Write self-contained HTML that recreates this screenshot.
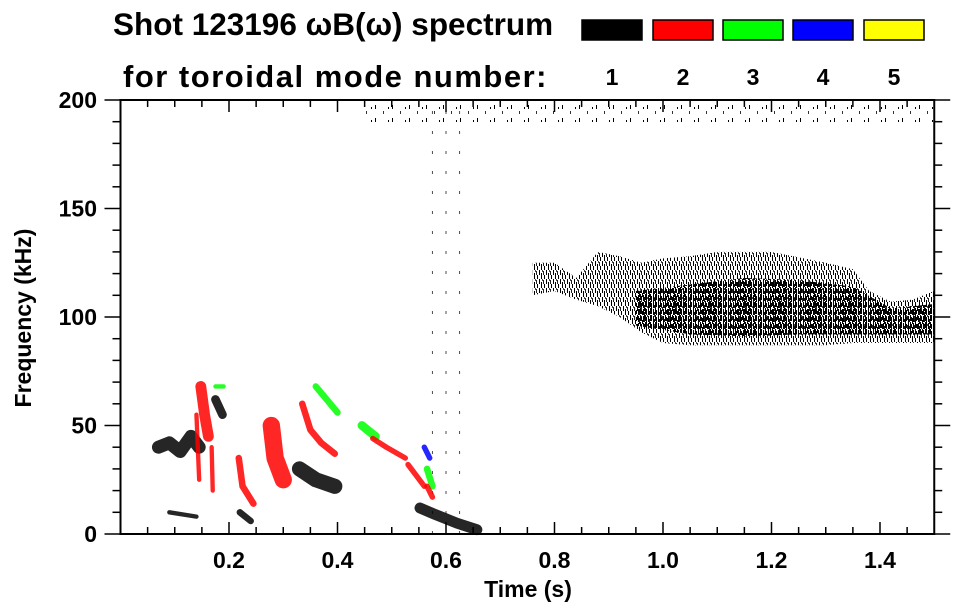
<!DOCTYPE html>
<html><head><meta charset="utf-8">
<style>
html,body{margin:0;padding:0;background:#fff;}
svg{display:block;font-family:"Liberation Sans",Arial,sans-serif;font-weight:bold;}
</style></head>
<body>
<svg id="chart" width="963" height="615" viewBox="0 0 963 615">
<defs>
<pattern id="hatch" width="7" height="9" patternUnits="userSpaceOnUse">
<rect x="0" y="0" width="1" height="5" fill="#000"/><rect x="2" y="3" width="1" height="6" fill="#000"/>
<rect x="4" y="1" width="1" height="4" fill="#222"/><rect x="5" y="5" width="1" height="4" fill="#000"/>
<rect x="3" y="0" width="1" height="2" fill="#444"/>
</pattern>
<pattern id="dense" width="5" height="7" patternUnits="userSpaceOnUse">
<rect x="0" y="0" width="1" height="6" fill="#000"/><rect x="1" y="2" width="1" height="4" fill="#000"/>
<rect x="3" y="1" width="1" height="6" fill="#000"/><rect x="4" y="4" width="1" height="3" fill="#111"/>
</pattern>
<pattern id="sparse" width="17" height="13" patternUnits="userSpaceOnUse">
<rect x="1" y="1" width="1" height="4" fill="#000"/><rect x="9" y="7" width="1" height="3" fill="#333"/>
<rect x="14" y="3" width="1" height="2" fill="#000"/>
</pattern>
</defs>
<g id="title">
<text x="113" y="35" font-size="31.5">Shot 123196 ωB(ω) spectrum</text>
<text x="123" y="87" font-size="31" letter-spacing="1.5">for toroidal mode number:</text>
</g>
<g id="legend"></g>
<g id="marks"></g>
<g id="axes"></g>
<text x="528" y="597" font-size="23" text-anchor="middle">Time (s)</text>
<text transform="translate(31,318) rotate(-90)" font-size="23" text-anchor="middle">Frequency (kHz)</text>
</svg>
<script>
const modeColors = ['#000000','#ff0000','#00ff00','#0000ff','#ffff00'];
const modeLabels = ['1','2','3','4','5'];
const xTicks = [0.2,0.4,0.6,0.8,1.0,1.2,1.4];
const xTickLabels = ['0.2','0.4','0.6','0.8','1.0','1.2','1.4'];
const yTicks = [0,50,100,150,200];
const yTickLabels = ['0','50','100','150','200'];
// dominant n=1 broadband cloud
const cloudT  = [0.76,0.80,0.84,0.88,0.92,0.96,1.00,1.05,1.10,1.20,1.30,1.35,1.38,1.42,1.46,1.50];
const cloudHi = [125,125,118,130,128,125,127,128,130,130,125,122,112,107,108,112];
const cloudLo = [110,112,108,105,100,93,88,87,87,87,87,88,88,88,88,88];
const coreT  = [0.95,1.05,1.15,1.25,1.35,1.42,1.50];
const coreHi = [112,115,118,117,114,104,106];
const coreLo = [96,92,91,92,92,92,92];
const bandT  = [0.44,1.5];
const bandHi = [199,199];
const bandLo = [189,189];
const vlineT = [0.575,0.60,0.625];
// coherent mode streaks: mode number, time points, frequency points, width (kHz)
const featMode = [1,2,2,3,1,2,1,2,2,1,3,3,2,2,4,3,2,1,1,2];
const featT = [[0.07,0.09,0.11,0.13,0.145],[0.148,0.155,0.162],[0.168,0.17],[0.175,0.19],[0.175,0.188],
 [0.218,0.225,0.245],[0.22,0.24],[0.278,0.285,0.30],[0.335,0.35,0.37,0.395],[0.33,0.36,0.395],
 [0.36,0.38,0.40],[0.445,0.47],[0.465,0.49,0.525],[0.53,0.545,0.56],[0.56,0.57],[0.565,0.575],
 [0.565,0.575],[0.552,0.58,0.62,0.657],[0.09,0.14],[0.14,0.145]];
const featF = [[40,42,38,45,40],[68,55,45],[40,20],[68,68],[62,55],
 [35,22,14],[10,6],[50,35,25],[60,48,42,37],[30,25,22],
 [68,62,56],[50,45],[44,40,35],[32,27,22],[40,35],[30,22],
 [22,17],[12,9,5,2],[10,8],[55,25]];
const featW = [6,5,2,2,4,3,3,8,3,7,3,4,2.5,2.5,2.5,3,2.5,5,2,2];

const X0=120.5, XS=542.5, Y0=534, YS=2.17;
const xs = t => X0 + t*XS;
const ys = f => Y0 - f*YS;
const NS='http://www.w3.org/2000/svg';
function mk(tag, attrs, parent){const e=document.createElementNS(NS,tag);for(const k in attrs)e.setAttribute(k,attrs[k]);parent.appendChild(e);return e;}

const legend=document.getElementById('legend');
const boxX=[582,653,723,793,864];
for(let i=0;i<modeColors.length;i++){
  const r=mk('rect',{x:boxX[i],y:20,width:60,height:20,fill:modeColors[i],stroke:'#000','stroke-width':1.5},legend);
  
  
  const t=mk('text',{x:boxX[i]+30,y:85,'font-size':23,'text-anchor':'middle'},legend);
  t.textContent=modeLabels[i];
  
  
}

const marks=document.getElementById('marks');
function area(T,H,L,fill,name){
  let d='M'+T.map((t,i)=>xs(t)+','+ys(H[i])).join('L');
  for(let i=T.length-1;i>=0;i--) d+='L'+xs(T[i])+','+ys(L[i]);
  const p=mk('path',{d:d+'Z',fill:fill},marks);
  
  
}
area(bandT,bandHi,bandLo,'url(#sparse)','high-frequency-band');
area(cloudT,cloudHi,cloudLo,'url(#hatch)','n1-broadband-cloud');
area(coreT,coreHi,coreLo,'url(#dense)','n1-cloud-core');
for(const t of vlineT){
  const l=mk('line',{x1:xs(t),x2:xs(t),y1:ys(0),y2:ys(200),stroke:'#000','stroke-width':1,'stroke-dasharray':'3 17',opacity:0.7},marks);
  
  
}
for(let i=0;i<featMode.length;i++){
  const pts=featT[i].map((t,j)=>xs(t)+','+ys(featF[i][j])).join(' ');
  const p=mk('polyline',{points:pts,fill:'none',stroke:modeColors[featMode[i]-1],'stroke-width':featW[i]*YS,'stroke-linecap':'round','stroke-linejoin':'round',opacity:0.85},marks);
  
  
}

const axes=document.getElementById('axes');
const fr=mk('rect',{x:X0,y:ys(200),width:xs(1.5)-X0,height:Y0-ys(200),fill:'none',stroke:'#000','stroke-width':2},axes);


for(let k=1;k<30;k++){
  const t=k*0.05, major=(k%4===0);
  const len=major?12:7;
  mk('line',{x1:xs(t),x2:xs(t),y1:Y0,y2:Y0-len,stroke:'#000','stroke-width':1.5},axes);
  mk('line',{x1:xs(t),x2:xs(t),y1:ys(200),y2:ys(200)+len,stroke:'#000','stroke-width':1.5},axes);
}
for(let k=0;k<=20;k++){
  const f=k*10, major=(k%5===0);
  const len=major?16:8;
  mk('line',{x1:X0,x2:X0-len,y1:ys(f),y2:ys(f),stroke:'#000','stroke-width':1.5},axes);
  mk('line',{x1:xs(1.5),x2:xs(1.5)+len,y1:ys(f),y2:ys(f),stroke:'#000','stroke-width':1.5},axes);
}
xTicks.forEach((t,i)=>{
  const e=mk('text',{x:xs(t),y:568,'font-size':23,'text-anchor':'middle'},axes);
  e.textContent=xTickLabels[i];
  
  
});
yTicks.forEach((f,i)=>{
  const e=mk('text',{x:97,y:ys(f)+8,'font-size':23,'text-anchor':'end'},axes);
  e.textContent=yTickLabels[i];
  
  
});
</script>
</body></html>
